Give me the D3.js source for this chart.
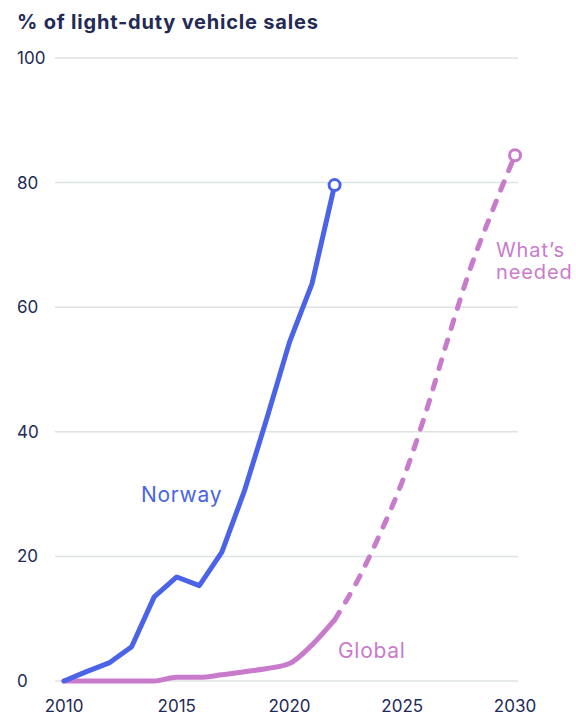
<!DOCTYPE html>
<html><head><meta charset="utf-8">
<script src="https://cdn.jsdelivr.net/npm/d3@7"></script>
<style>body{margin:0;background:#fff}svg{display:block}text{font-family:Inter,"Open Sans",sans-serif}</style>
</head><body><svg id="c" width="576" height="715"></svg>
<script>
const years = [2010,2011,2012,2013,2014,2015,2016,2017,2018,2019,2020,2021,2022];
const norway = [0,1.5,2.9,5.5,13.5,16.7,15.3,20.7,30.5,42.2,54.4,63.8,79.6];
const global = [0,0,0,0,0,0.6,0.6,1.0,1.5,2.0,2.8,5.8,9.8];
const neededYears = [2022,2023,2024,2025,2026,2027,2028,2029,2030];
const needed = [9.8,16,23.5,32,42.6,54.6,66,75.5,84.4];
const yTicks = [0,20,40,60,80,100];
const xTicks = [2010,2015,2020,2025,2030];

const svg = d3.select("#c");
const x = d3.scaleLinear().domain([2010,2030]).range([64,515]);
const y = d3.scaleLinear().domain([0,100]).range([681,58]);
const navy = "#222a55", blue = "#4b63e6", pink = "#c97bcb";

svg.append("text").attr("x",17).attr("y",29).attr("fill",navy)
  .attr("font-size",20).attr("font-weight",700).attr("letter-spacing",0.8).text("% of light-duty vehicle sales");

const g = svg.append("g");
g.selectAll(".grid").data(yTicks).join("line")
  .attr("x1",55).attr("x2",518).attr("y1",d=>y(d)).attr("y2",d=>y(d))
  .attr("stroke","#dde2e2").attr("stroke-width",1.5);
g.selectAll(".yl").data(yTicks).join("text")
  .attr("x",17).attr("y",d=>y(d)+6).attr("fill",navy).attr("font-size",17).text(d=>d);
g.selectAll(".xl").data(xTicks).join("text")
  .attr("x",d=>x(d)).attr("y",712).attr("text-anchor","middle").attr("fill",navy).attr("font-size",17).text(d=>d);

const line = d3.line().x(d=>x(d[0])).y(d=>y(d[1]));
svg.append("path").datum(years.map((v,i)=>[v,global[i]]))
  .attr("d",line.curve(d3.curveMonotoneX)).attr("fill","none").attr("stroke",pink)
  .attr("stroke-width",5).attr("stroke-linejoin","round").attr("stroke-linecap","round");
svg.append("path").datum(neededYears.map((v,i)=>[v,needed[i]]))
  .attr("d",d3.line().x(d=>x(d[0])).y(d=>y(d[1])).curve(d3.curveMonotoneX))
  .attr("fill","none").attr("stroke",pink).attr("stroke-width",5)
  .attr("stroke-dasharray","9,12").attr("stroke-linecap","round");
svg.append("path").datum(years.map((v,i)=>[v,norway[i]]))
  .attr("d",d3.line().x(d=>x(d[0])).y(d=>y(d[1])))
  .attr("fill","none").attr("stroke",blue).attr("stroke-width",5)
  .attr("stroke-linejoin","round").attr("stroke-linecap","round");

svg.append("circle").attr("cx",x(2022)).attr("cy",y(norway[norway.length-1])).attr("r",5.5)
  .attr("fill","#fff").attr("stroke",blue).attr("stroke-width",3);
svg.append("circle").attr("cx",x(2030)).attr("cy",y(needed[needed.length-1])).attr("r",5.5)
  .attr("fill","#fff").attr("stroke",pink).attr("stroke-width",3);

const lab = (t,xx,yy,c,fs,ls)=>svg.append("text").attr("x",xx).attr("y",yy).attr("fill",c)
  .attr("font-size",fs).attr("letter-spacing",ls).text(t);
lab("Norway",141,502,blue,21,0.7);
lab("Global",338,658,pink,21,0.7);
lab("What’s",496,257,pink,20,0.9);
lab("needed",496,279,pink,20,0.9);
</script></body></html>
